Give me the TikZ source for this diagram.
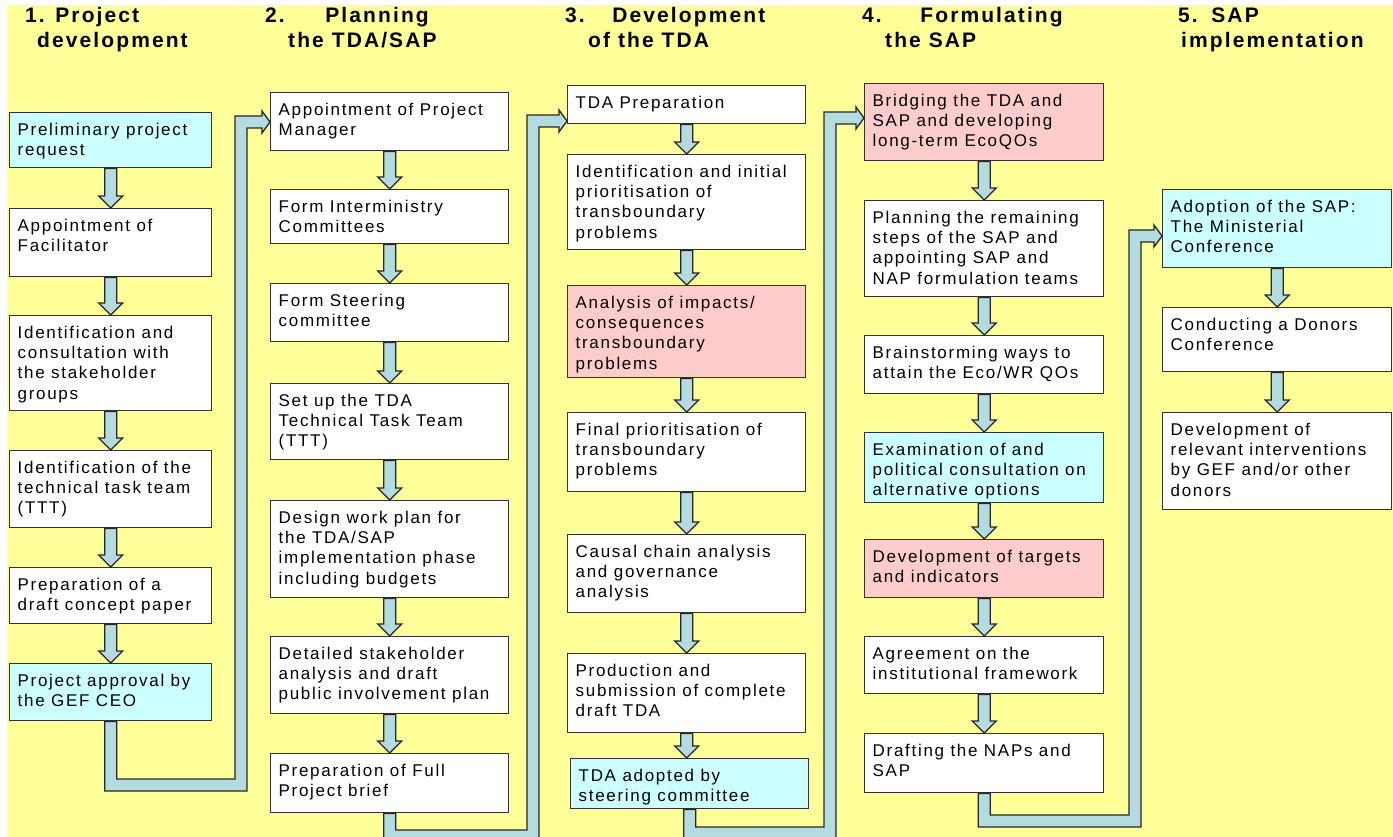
\documentclass[tikz,border=0pt]{standalone}
\usepackage{fontspec}
\setmainfont{Liberation Sans}[LetterSpace=10]
\usetikzlibrary{calc}
\definecolor{bgy}{HTML}{FFFF99}
\definecolor{cy}{HTML}{CCFFFF}
\definecolor{pk}{HTML}{FFCCCC}
\definecolor{fl}{HTML}{B4DCE0}
\tikzset{
  stepbox/.style={draw=black!80, line width=1.4pt, rectangle, inner sep=0pt, anchor=north west},
  txt/.style={anchor=north west, inner sep=0pt, align=left, font=\fontsize{17}{20.3}\selectfont},
  ttl/.style={anchor=north west, inner sep=0pt, align=left, font=\fontsize{21}{25}\selectfont\bfseries},
  flow/.style={draw=black!85, line width=1.3pt, fill=fl, line join=miter},
}
% name, x, y, w, h, fill, text
\newcommand{\bx}[7]{%
  \node[stepbox, fill=#6, minimum width=#4, minimum height=#5] (#1) at (#2,#3) {};
  \node[txt] (#1t) at ([shift={(8.5,4)}]#1.north west) {\rule{0pt}{19pt}#7};
}
% straight down arrow from #1 to #2
\newcommand{\dn}[2]{%
  \draw[flow] ($(#1.south)+(-6,0)$) -- ($(#1.south |- #2.north)+(-6,-12)$)
    -- ($(#1.south |- #2.north)+(-12,-12)$) -- (#1.south |- #2.north)
    -- ($(#1.south |- #2.north)+(12,-12)$) -- ($(#1.south |- #2.north)+(6,-12)$)
    -- ($(#1.south)+(6,0)$) -- cycle;}
% elbow arrow: from #1 down to corner #2, up to corner #3, right into #4
\newcommand{\elb}[4]{%
  \draw[flow] ($(#1.south)+(-6,0)$) -- ($(#1.south |- #2)+(-6,6)$)
    -- ($(#2)+(6,6)$) -- ($(#3)+(6,6)$) -- ($(#4.west |- #3)+(-8,6)$)
    -- ($(#4.west |- #3)+(-8,11)$) -- (#4.west |- #3)
    -- ($(#4.west |- #3)+(-8,-11)$) -- ($(#4.west |- #3)+(-8,-6)$)
    -- ($(#3)+(-6,-6)$) -- ($(#2)+(-6,-6)$) -- ($(#1.south |- #2)+(6,-6)$)
    -- ($(#1.south)+(6,0)$) -- cycle;}
\begin{document}
\begin{tikzpicture}[x=1pt, y=-1pt]
\useasboundingbox (0,0) rectangle (1393,837);
\fill[bgy] (7,5) rectangle (1393,837);

% titles
\node[ttl] (t1) at (25,1) {\rule{0pt}{21pt}1. Project\\\hspace*{12pt}development};
\node[ttl] (t2) at (265,1) {\rule{0pt}{21pt}2.\hspace{30pt} Planning\\\hspace*{23pt}the TDA/SAP};
\node[ttl] (t3) at (565,1) {\rule{0pt}{21pt}3.\hspace{17pt} Development\\\hspace*{23pt}of the TDA};
\node[ttl] (t4) at (862,1) {\rule{0pt}{21pt}4.\hspace{28pt} Formulating\\\hspace*{23pt}the SAP};
\node[ttl] (t5) at (1178,1) {\rule{0pt}{21pt}5.\hspace{3pt} SAP\\\hspace*{3pt}implementation};

% column 1
\bx{a1}{9}{112}{202}{55}{cy}{Preliminary project\\request}
\bx{a2}{9}{208}{202}{68}{white}{Appointment of\\Facilitator}
\bx{a3}{9}{315}{202}{95}{white}{Identification and\\consultation with\\the stakeholder\\groups}
\bx{a4}{9}{450}{202}{77}{white}{Identification of the\\technical task team\\(TTT)}
\bx{a5}{9}{567}{202}{56}{white}{Preparation of a\\draft concept paper}
\bx{a6}{9}{663}{202}{57}{cy}{Project approval by\\the GEF CEO}

% column 2
\bx{b1}{270}{92}{238}{58}{white}{Appointment of Project\\Manager}
\bx{b2}{270}{189}{238}{54}{white}{Form Interministry\\Committees}
\bx{b3}{270}{283}{238}{58}{white}{Form Steering\\committee}
\bx{b4}{270}{383}{238}{76}{white}{Set up the TDA\\Technical Task Team\\(TTT)}
\bx{b5}{270}{500}{238}{97}{white}{Design work plan for\\the TDA/SAP\\implementation phase\\including budgets}
\bx{b6}{270}{636}{238}{77}{white}{Detailed stakeholder\\analysis and draft\\public involvement plan}
\bx{b7}{270}{753}{238}{59}{white}{Preparation of Full\\Project brief}

% column 3
\bx{c1}{567}{85}{238}{38}{white}{TDA Preparation}
\bx{c2}{567}{154}{238}{95}{white}{Identification and initial\\prioritisation of\\transboundary\\problems}
\bx{c3}{567}{285}{238}{92}{pk}{Analysis of impacts/\\consequences\\transboundary\\problems}
\bx{c4}{567}{412}{238}{79}{white}{Final prioritisation of\\transboundary\\problems}
\bx{c5}{567}{534}{238}{78}{white}{Causal chain analysis\\and governance\\analysis}
\bx{c6}{567}{653}{238}{79}{white}{Production and\\submission of complete\\draft TDA}
\bx{c7}{570}{758}{238}{50}{cy}{TDA adopted by\\steering committee}

% column 4
\bx{d1}{864}{83}{239}{77}{pk}{Bridging the TDA and\\SAP and developing\\long-term EcoQOs}
\bx{d2}{864}{200}{239}{96}{white}{Planning the remaining\\steps of the SAP and\\appointing SAP and\\NAP formulation teams}
\bx{d3}{864}{335}{239}{58}{white}{Brainstorming ways to\\attain the Eco/WR QOs}
\bx{d4}{864}{432}{239}{70}{cy}{Examination of and\\political consultation on\\alternative options}
\bx{d5}{864}{539}{239}{58}{pk}{Development of targets\\and indicators}
\bx{d6}{864}{636}{239}{57}{white}{Agreement on the\\institutional framework}
\bx{d7}{864}{733}{239}{59}{white}{Drafting the NAPs and\\SAP}

% column 5
\bx{e1}{1162}{189}{229}{78}{cy}{Adoption of the SAP:\\The Ministerial\\Conference}
\bx{e2}{1162}{307}{229}{64}{white}{Conducting a Donors\\Conference}
\bx{e3}{1162}{412}{229}{97}{white}{Development of\\relevant interventions\\by GEF and/or other\\donors}

% straight arrows
\dn{a1}{a2}\dn{a2}{a3}\dn{a3}{a4}\dn{a4}{a5}\dn{a5}{a6}
\dn{b1}{b2}\dn{b2}{b3}\dn{b3}{b4}\dn{b4}{b5}\dn{b5}{b6}\dn{b6}{b7}
\dn{c1}{c2}\dn{c2}{c3}\dn{c3}{c4}\dn{c4}{c5}\dn{c5}{c6}\dn{c6}{c7}
\dn{d1}{d2}\dn{d2}{d3}\dn{d3}{d4}\dn{d4}{d5}\dn{d5}{d6}\dn{d6}{d7}
\dn{e1}{e2}\dn{e2}{e3}

% elbow connectors
\coordinate (k1b) at (241,785); \coordinate (k1t) at (241,122);
\coordinate (k2b) at (533,836); \coordinate (k2t) at (533,121);
\coordinate (k3b) at (830,833); \coordinate (k3t) at (830,118);
\coordinate (k4b) at (1135,821); \coordinate (k4t) at (1135,236);
\elb{a6}{k1b}{k1t}{b1}
\elb{b7}{k2b}{k2t}{c1}
\elb{c7}{k3b}{k3t}{d1}
\elb{d7}{k4b}{k4t}{e1}
\end{tikzpicture}
\end{document}
